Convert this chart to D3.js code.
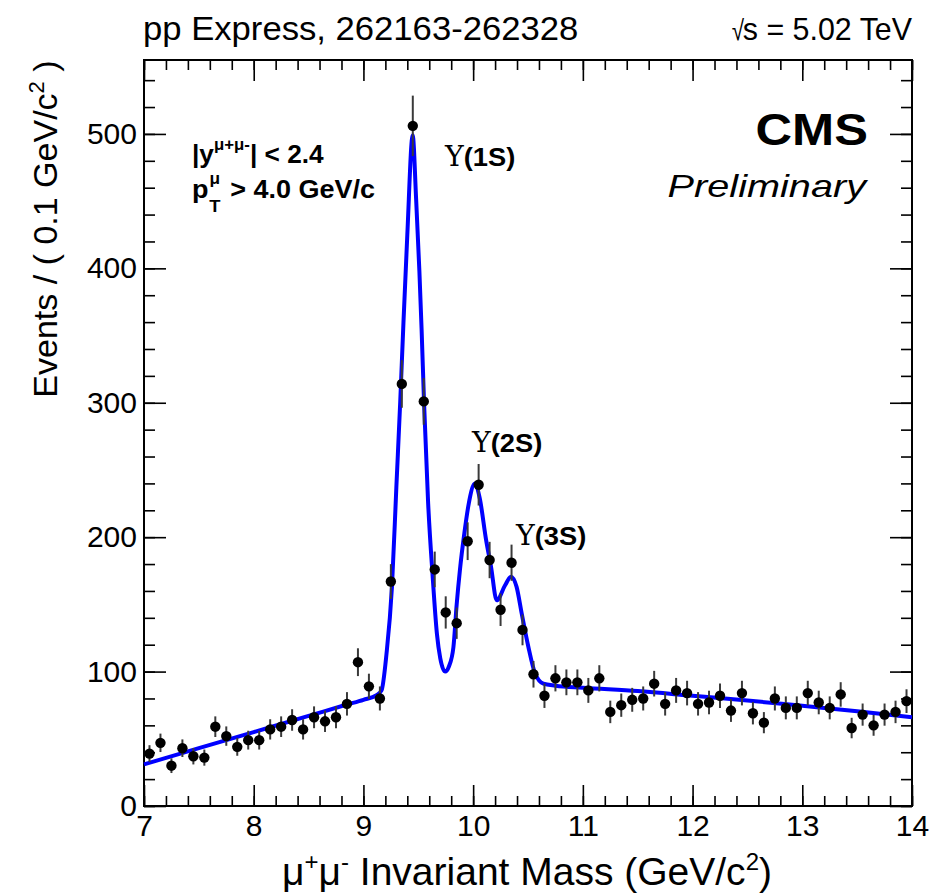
<!DOCTYPE html>
<html><head><meta charset="utf-8">
<script src="https://cdn.jsdelivr.net/npm/d3@7"></script>
<style>
body{margin:0;background:#fff}
text{font-family:"Liberation Sans",Arial,Helvetica,sans-serif;fill:#000}
</style>
</head><body>
<svg id="chart" width="935" height="895"></svg>
<script>
// ---------- data ----------
const binCenters = [7.05,7.15,7.25,7.35,7.45,7.55,7.65,7.75,7.85,7.95,
  8.05,8.15,8.25,8.35,8.45,8.55,8.65,8.75,8.85,8.95,
  9.05,9.15,9.25,9.35,9.45,9.55,9.65,9.75,9.85,9.95,
  10.05,10.15,10.25,10.35,10.45,10.55,10.65,10.75,10.85,10.95,
  11.05,11.15,11.25,11.35,11.45,11.55,11.65,11.75,11.85,11.95,
  12.05,12.15,12.25,12.35,12.45,12.55,12.65,12.75,12.85,12.95,
  13.05,13.15,13.25,13.35,13.45,13.55,13.65,13.75,13.85,13.95];
const counts = [39,47,30,43,37,36,59,52,44,49,
  49,57,59,64,57,66,63,66,76,107,
  89,80,167,314,506,301,176,144,136,197,
  239,183,146,181,131,98,82,95,92,92,
  86,95,70,75,79,80,91,76,86,84,
  76,77,82,71,84,69,62,80,73,73,
  84,77,73,83,58,68,60,68,70,78];
const fitMass = [7.0,7.5,8.0,8.5,8.85,9.0,9.12,9.165,9.21,9.26,9.30,9.335,9.365,9.40,9.449,
  9.48,9.51,9.53,9.553,9.59,9.63,9.67,9.70,9.745,9.78,9.82,9.85,9.88,9.92,9.96,10.017,
  10.06,10.118,10.163,10.215,10.29,10.345,10.396,10.442,10.503,10.564,10.64,10.75,
  11.0,11.5,12.0,12.5,13.0,13.5,14.0];
const fitValues = [31,43,55,67,75.5,79,82.5,86,113,163,237,300,360,425,499,
  452,398,355,299,225,172,128,110,100,104,118,150,176,203,225,240,
  229,198,178,153,164,170.6,163,143.5,118.5,98.7,91,89.5,
  88,85.5,82,78.5,74.5,70.5,66];
const xTicks = [7,8,9,10,11,12,13,14];
const yTicks = [0,100,200,300,400,500];
const xMinor = d3.range(36).map(i => 7 + i*0.2);
const yMinor = d3.range(28).map(i => i*20);

// ---------- layout ----------
const svg = d3.select("#chart");
const L = 144, R = 912, T = 60, B = 806;
const x = d3.scaleLinear().domain([7,14]).range([L,R]);
const y = d3.scaleLinear().domain([0,555]).range([B,T]);

function styleAxis(g){
  g.select(".domain").remove();
  g.selectAll("line").attr("stroke","#000").attr("stroke-width",1.6);
  g.selectAll("text").style("font-family",'"Liberation Sans",Arial,sans-serif').attr("fill","#000");
}
svg.append("g").attr("transform",`translate(0,${B})`)
  .call(d3.axisBottom(x).tickValues(xMinor).tickSize(-10).tickFormat("")).call(styleAxis);
svg.append("g").attr("transform",`translate(0,${B})`)
  .call(d3.axisBottom(x).tickValues(xTicks).tickSize(-21).tickPadding(9).tickFormat(d3.format("d")))
  .call(styleAxis).selectAll("text").style("font-size","30px");
svg.append("g").attr("transform",`translate(0,${T})`)
  .call(d3.axisTop(x).tickValues(xMinor).tickSize(-10).tickFormat("")).call(styleAxis);
svg.append("g").attr("transform",`translate(0,${T})`)
  .call(d3.axisTop(x).tickValues(xTicks).tickSize(-21).tickFormat("")).call(styleAxis);

svg.append("g").attr("transform",`translate(${L},0)`)
  .call(d3.axisLeft(y).tickValues(yMinor).tickSize(-11).tickFormat("")).call(styleAxis);
svg.append("g").attr("transform",`translate(${L},0)`)
  .call(d3.axisLeft(y).tickValues(yTicks).tickSize(-22).tickPadding(7).tickFormat(d3.format("d")))
  .call(styleAxis).selectAll("text").style("font-size","30px");
svg.append("g").attr("transform",`translate(${R},0)`)
  .call(d3.axisRight(y).tickValues(yMinor).tickSize(-11).tickFormat("")).call(styleAxis);
svg.append("g").attr("transform",`translate(${R},0)`)
  .call(d3.axisRight(y).tickValues(yTicks).tickSize(-22).tickFormat("")).call(styleAxis);

svg.append("rect").attr("x",L).attr("y",T).attr("width",R-L).attr("height",B-T)
  .attr("fill","none").attr("stroke","#000").attr("stroke-width",2);

// fit curve
const line = d3.line().x((d,i)=>x(fitMass[i])).y(d=>y(d)).curve(d3.curveMonotoneX);
svg.append("path").attr("d",line(fitValues)).attr("fill","none")
  .attr("stroke","#0000ff").attr("stroke-width",4);

// data points with Poisson errors
const pts = svg.append("g");
pts.selectAll("line").data(counts).join("line")
  .attr("x1",(d,i)=>x(binCenters[i])).attr("x2",(d,i)=>x(binCenters[i]))
  .attr("y1",d=>y(d-Math.sqrt(d))).attr("y2",d=>y(d+Math.sqrt(d)))
  .attr("stroke","#3a3a3a").attr("stroke-width",2);
pts.selectAll("circle").data(counts).join("circle")
  .attr("cx",(d,i)=>x(binCenters[i])).attr("cy",d=>y(d)).attr("r",5.2).attr("fill","#000");

// ---------- texts ----------
function txt(px, py, size, sx, anchor){
  return svg.append("text")
    .attr("transform",`translate(${px},${py}) scale(${sx},1)`)
    .attr("text-anchor",anchor||"start").style("font-size",size+"px");
}
txt(143,40,33,1.05).text("pp Express, 262163-262328");
txt(912,40,32,0.95,"end").text("s = 5.02 TeV");
txt(744,40,28,0.8,"end").style("font-weight","300").text("\u221A");

// y title
svg.append("text").attr("transform","translate(57,229) rotate(-90)").attr("text-anchor","middle")
  .style("font-size","34px")
  .call(t=>{t.append("tspan").text("Events / ( 0.1 GeV/c");
            t.append("tspan").attr("dy",-13).style("font-size","22px").text("2");
            t.append("tspan").attr("dy",13).text(" )");});
// x title
svg.append("text").attr("x",527).attr("y",885).attr("text-anchor","middle").style("font-size","39px")
  .call(t=>{t.append("tspan").text("\u03BC");
            t.append("tspan").attr("dy",-15).style("font-size","24px").text("+");
            t.append("tspan").attr("dy",15).text("\u03BC");
            t.append("tspan").attr("dy",-15).style("font-size","24px").text("-");
            t.append("tspan").attr("dy",15).text(" Invariant Mass (GeV/c");
            t.append("tspan").attr("dy",-15).style("font-size","24px").text("2");
            t.append("tspan").attr("dy",15).text(")");});

// cuts
txt(192,163,25,1.05).style("font-weight","bold")
  .call(t=>{t.append("tspan").text("|y");
            t.append("tspan").attr("dy",-13).style("font-size","16px").text("\u03BC+\u03BC-");
            t.append("tspan").attr("dy",13).text("| < 2.4");});
txt(192,198,25,1.08).style("font-weight","bold")
  .call(t=>{t.append("tspan").text("p");
            t.append("tspan").attr("dy",-14).attr("dx",1).style("font-size","16px").text("\u03BC");
            t.append("tspan").attr("dy",28).attr("dx",-10).style("font-size","17px").text("T");
            t.append("tspan").attr("dy",-14).attr("dx",2).text(" > 4.0 GeV/c");});

// peak labels
function upsLabel(xp, yp, s){
  const t = txt(xp, yp, 26, 1.05);
  t.append("tspan").style("font-family",'"DejaVu Serif","Liberation Serif",serif').style("font-size","27px").text("\u03A5");
  t.append("tspan").style("font-weight","bold").text(s);
}
upsLabel(445,166,"(1S)");
upsLabel(472,452,"(2S)");
upsLabel(516,545,"(3S)");

txt(868,145,44,1.15,"end").style("font-weight","bold").text("CMS");
txt(866,197,32,1.24,"end").style("font-style","italic").text("Preliminary");
</script>
</body></html>
